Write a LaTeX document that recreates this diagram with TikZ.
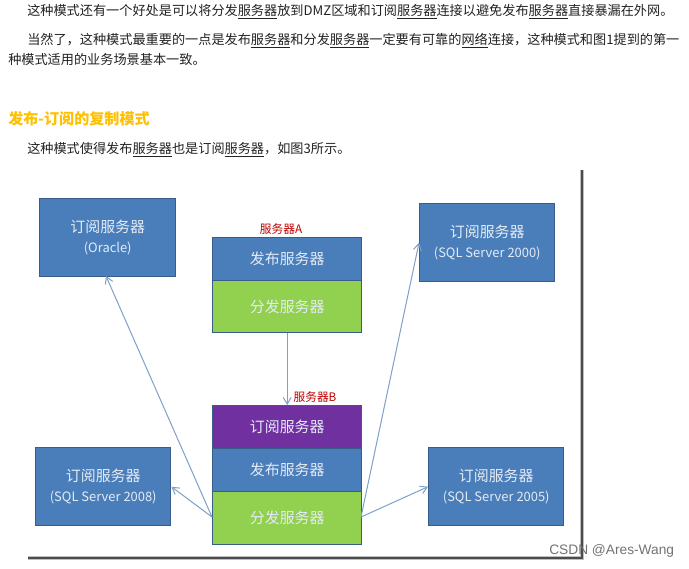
\documentclass[tikz,border=0pt]{standalone}
\usepackage{fontspec}
\setmainfont{Noto Sans CJK SC}
\newfontfamily\latinf{Liberation Sans}
\usetikzlibrary{arrows.meta}
\definecolor{bluebox}{HTML}{4A7EBB}
\definecolor{edgeb}{HTML}{385D8A}
\definecolor{greenbox}{HTML}{92D050}
\definecolor{purplebox}{HTML}{7030A0}
\definecolor{gold}{HTML}{FFC000}
\definecolor{bodytext}{HTML}{222222}
\definecolor{arrowc}{HTML}{7FA0C8}
\definecolor{whitet}{HTML}{E4EBF4}
\newcommand{\fw}[1]{\underline{#1}}
\newcommand{\sublabel}[1]{{\fontsize{9.7pt}{13pt}\selectfont #1}}
\tikzset{
  x=0.75pt,y=-0.75pt,
  panel/.style={draw=edgeb,line width=1.1pt,text=whitet,inner sep=0pt,anchor=north west,align=center,font=\fontsize{11.2pt}{14pt}\selectfont},
  bluep/.style={panel,fill=bluebox},
  greenp/.style={panel,fill=greenbox},
  purplep/.style={panel,fill=purplebox},
  bodyline/.style={anchor=west,inner sep=0pt,text=bodytext,font=\fontsize{9.87pt}{12pt}\selectfont},
  heading/.style={anchor=west,inner sep=0pt,text=gold,font=\fontsize{11.3pt}{13pt}\bfseries\selectfont},
  tag/.style={inner sep=0pt,text=red!75!black,font=\fontsize{8.8pt}{10pt}\selectfont},
  link/.style={draw=arrowc,line width=0.75pt,-{Straight Barb[length=5pt,width=6pt]}},
  shadowline/.style={draw=black!70,line width=1.6pt},
  shadowsoft/.style={draw=black!25,line width=3.2pt},
}
\begin{document}
\begin{tikzpicture}
\useasboundingbox (0,0) rectangle (689,568);
\fill[white] (0,0) rectangle (689,568);
% text
\node[bodyline] (l1) at (27,12) {这种模式还有一个好处是可以将分发\fw{服务器}放到DMZ区域和订阅\fw{服务器}连接以避免发布\fw{服务器}直接暴漏在外网。};
\node[bodyline] (l2) at (27,41) {当然了，这种模式最重要的一点是发布\fw{服务器}和分发\fw{服务器}一定要有可靠的\fw{网络}连接，这种模式和图1提到的第一};
\node[bodyline] (l3) at (8,60) {种模式适用的业务场景基本一致。};
\node[heading] (h1) at (8,119) {发布-订阅的复制模式};
\node[bodyline] (l4) at (27,150) {这种模式使得发布\fw{服务器}也是订阅\fw{服务器}，如图3所示。};
% frame shadow
\coordinate (fa) at (28,558);
\coordinate (fb) at (582,558);
\coordinate (fc) at (582,170);
\draw[shadowsoft] (fa) -- (fb) -- (fc);
\draw[shadowline] (fa) -- (fb) -- (fc);
% servers
\node[bluep,minimum width=136*0.75pt,minimum height=78*0.75pt] (oracle) at (39,198) {订阅服务器\\[1pt]\sublabel{(Oracle)}};
\node[bluep,minimum width=135*0.75pt,minimum height=78*0.75pt] (s2000) at (419,203) {订阅服务器\\[1pt]\sublabel{(SQL Server 2000)}};
\node[bluep,minimum width=135*0.75pt,minimum height=78*0.75pt] (s2008) at (35,447) {订阅服务器\\[1pt]\sublabel{(SQL Server 2008)}};
\node[bluep,minimum width=135*0.75pt,minimum height=78*0.75pt] (s2005) at (428,447) {订阅服务器\\[1pt]\sublabel{(SQL Server 2005)}};
\node[bluep,minimum width=149*0.75pt,minimum height=43*0.75pt] (apub) at (212,237) {发布服务器};
\node[greenp,minimum width=149*0.75pt,minimum height=52*0.75pt] (adist) at (212,280) {分发服务器};
\node[purplep,minimum width=149*0.75pt,minimum height=43*0.75pt] (bsub) at (212,405) {订阅服务器};
\node[bluep,minimum width=149*0.75pt,minimum height=43*0.75pt] (bpub) at (212,448) {发布服务器};
\node[greenp,minimum width=149*0.75pt,minimum height=53*0.75pt] (bdist) at (212,491) {分发服务器};
\node[tag] (ta) at (281,229) {服务器A};
\node[tag] (tb) at (315,397) {服务器B};
% connectors
\draw[link] (adist.south) -- (bsub.north);
\coordinate (lo) at (212,517);
\coordinate (ro) at (361,517);
\coordinate (oe) at (106,276);
\draw[link] (lo) -- (oe);
\draw[link] (lo) -- (s2008.east);
\draw[link] (ro) -- (s2000.west);
\draw[link] (ro) -- (s2005.west);
% watermark
\node[anchor=west,inner sep=0pt,text=black!55,font=\latinf\fontsize{10.3pt}{12pt}\selectfont] (wm) at (549,551) {CSDN @Ares-Wang};
\end{tikzpicture}
\end{document}
